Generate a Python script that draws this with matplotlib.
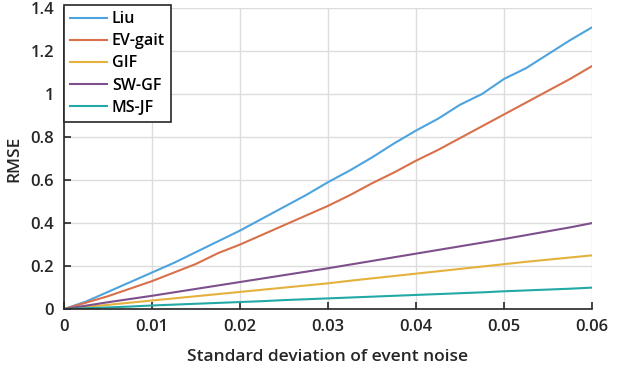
import numpy as np
import matplotlib.pyplot as plt

plt.rcParams['font.family'] = ['Open Sans', 'DejaVu Sans']

# 事件噪声标准差
sigma = [0.0, 0.0025, 0.005, 0.0075, 0.01, 0.0125, 0.015, 0.0175, 0.02, 0.0225,
         0.025, 0.0275, 0.03, 0.0325, 0.035, 0.0375, 0.04, 0.0425, 0.045, 0.0475,
         0.05, 0.0525, 0.055, 0.0575, 0.06]

rmse_liu = [0.0, 0.035, 0.08, 0.125, 0.17, 0.215, 0.265, 0.315, 0.365, 0.42,
            0.475, 0.53, 0.59, 0.645, 0.705, 0.77, 0.83, 0.885, 0.95, 1.0,
            1.07, 1.12, 1.185, 1.25, 1.31]
rmse_ev = [0.0, 0.03, 0.06, 0.095, 0.13, 0.17, 0.21, 0.26, 0.30, 0.345,
           0.39, 0.435, 0.48, 0.53, 0.585, 0.635, 0.69, 0.74, 0.795, 0.85,
           0.905, 0.96, 1.015, 1.07, 1.13]
rmse_gif = [0.0, 0.01, 0.02, 0.03, 0.04, 0.05, 0.06, 0.07, 0.08, 0.09,
            0.10, 0.11, 0.12, 0.132, 0.143, 0.154, 0.165, 0.176, 0.187, 0.198,
            0.209, 0.22, 0.23, 0.24, 0.25]
rmse_sw = [0.0, 0.016, 0.032, 0.047, 0.062, 0.078, 0.094, 0.11, 0.126, 0.142,
           0.158, 0.174, 0.19, 0.207, 0.224, 0.241, 0.258, 0.275, 0.292, 0.309,
           0.326, 0.344, 0.362, 0.38, 0.40]
rmse_ms = [0.0, 0.004, 0.008, 0.012, 0.017, 0.021, 0.025, 0.029, 0.033, 0.037,
           0.042, 0.046, 0.05, 0.054, 0.058, 0.062, 0.066, 0.070, 0.074, 0.078,
           0.083, 0.087, 0.091, 0.095, 0.10]

names = ['Liu', 'EV-gait', 'GIF', 'SW-GF', 'MS-JF']
series = [rmse_liu, rmse_ev, rmse_gif, rmse_sw, rmse_ms]
colors = ['#4da3dd', '#d8704a', '#e4b23c', '#7e4f8d', '#23a9a5']

fig = plt.figure(figsize=(6.2, 3.77), dpi=100)
ax = fig.add_axes([0.103, 0.180, 0.852, 0.799])

for y, name, c in zip(series, names, colors):
    ax.plot(sigma, y, color=c, linewidth=1.5, label=name)

ax.set_xlim(0, 0.06)
ax.set_ylim(0, 1.4)
ax.set_xticks(np.arange(0, 0.061, 0.01))
ax.set_xticklabels(['0', '0.01', '0.02', '0.03', '0.04', '0.05', '0.06'])
ax.set_yticks(np.arange(0, 1.41, 0.2))
ax.set_yticklabels(['0', '0.2', '0.4', '0.6', '0.8', '1', '1.2', '1.4'])

ax.grid(True, color='#dcdcdc', linewidth=1.0)
ax.set_axisbelow(True)
for s in ['top', 'right']:
    ax.spines[s].set_visible(False)
for s in ['left', 'bottom']:
    ax.spines[s].set_color('#262626')
    ax.spines[s].set_linewidth(1.2)
ax.tick_params(direction='in', length=5, width=1.2, colors='#262626',
               labelsize=12, pad=7)
for lab in ax.get_xticklabels() + ax.get_yticklabels():
    lab.set_fontweight('semibold')

ax.set_xlabel('Standard deviation of event noise', fontsize=12.5,
              fontweight='semibold', color='#262626', labelpad=10)
ax.set_ylabel('RMSE', fontsize=12.5, fontweight='semibold', color='#262626',
              labelpad=6)

leg = ax.legend(loc='upper left', bbox_to_anchor=(0.0, 1.01), borderaxespad=0,
                fancybox=False, framealpha=1, edgecolor='#262626',
                handlelength=2.3, handletextpad=0.3, borderpad=0.4,
                labelspacing=0.38, prop={'size': 11.5, 'weight': 'semibold'})
leg.get_frame().set_linewidth(1.2)

fig.savefig('out.png', dpi=100)
